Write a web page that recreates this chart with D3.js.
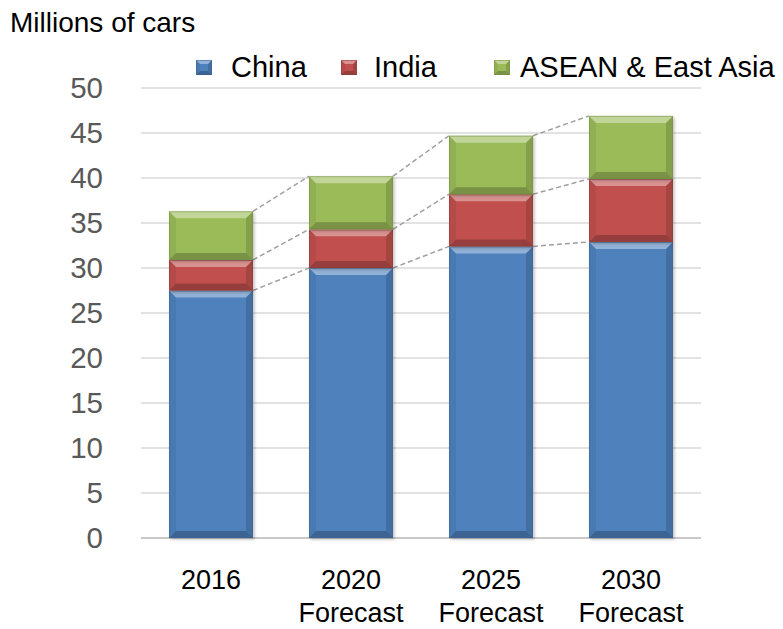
<!DOCTYPE html>
<html>
<head>
<meta charset="utf-8">
<script src="https://cdn.jsdelivr.net/npm/d3@7"></script>
<style>
  html, body { margin: 0; padding: 0; background: #fff; }
  svg { display: block; font-family: "Liberation Sans", Arial, sans-serif; }
</style>
</head>
<body>
<svg id="chart" width="783" height="629"></svg>
<script>
const categories = ["2016", "2020\nForecast", "2025\nForecast", "2030\nForecast"];
const seriesNames = ["China", "India", "ASEAN & East Asia"];
const china = [27.5, 30.0, 32.4, 32.9];
const india = [3.4, 4.3, 5.8, 7.0];
const asean = [5.4, 5.9, 6.5, 7.0];
const yTicks = [0, 5, 10, 15, 20, 25, 30, 35, 40, 45, 50];
const colors = ["#4f81bd", "#c0504d", "#9bbb59"];

const svg = d3.select("#chart");
const x = d3.scaleBand().domain(categories).range([141, 701]).paddingInner(0.4).paddingOuter(0.2);
const y = d3.scaleLinear().domain([0, 50]).range([538, 88]);

// title
svg.append("text").attr("x", 10).attr("y", 32).attr("font-size", 28).attr("fill", "#000").text("Millions of cars");

// gridlines
svg.append("g").selectAll("line").data(yTicks).join("line")
  .attr("x1", 141).attr("x2", 701)
  .attr("y1", d => y(d)).attr("y2", d => y(d))
  .attr("stroke", d => d === 0 ? "#c8c8c8" : "#d9d9d9").attr("stroke-width", d => d === 0 ? 2 : 1.5);

// y axis
const yAxis = d3.axisLeft(y).tickValues(yTicks).tickSize(0).tickPadding(0);
const gy = svg.append("g").attr("transform", "translate(103,0)").call(yAxis);
gy.select(".domain").remove();
gy.selectAll("text").attr("font-size", 29.5).attr("fill", "#595959").attr("font-family", "Liberation Sans, Arial, sans-serif");

// stack data
const rows = categories.map((c, i) => ({ cat: c, China: china[i], India: india[i], "ASEAN & East Asia": asean[i] }));
const stack = d3.stack().keys(seriesNames)(rows);

// connectors
const bw = x.bandwidth();
const conn = svg.append("g");
stack.forEach(layer => {
  for (let i = 0; i < categories.length - 1; i++) {
    conn.append("line")
      .attr("x1", x(categories[i]) + bw).attr("y1", y(layer[i][1]))
      .attr("x2", x(categories[i + 1])).attr("y2", y(layer[i + 1][1]))
      .attr("stroke", "#a0a0a0").attr("stroke-width", 1.5).attr("stroke-dasharray", "5,3");
  }
});

// shadow filter
const defs = svg.append("defs");
const f = defs.append("filter").attr("id", "sh").attr("x", "-10%").attr("y", "-10%").attr("width", "130%").attr("height", "130%");
f.append("feDropShadow").attr("dx", 1.5).attr("dy", 1.5).attr("stdDeviation", 1.5).attr("flood-color", "#000").attr("flood-opacity", 0.25);

// bars with bevel
function bevel(g, x0, y0, w, h, color, bmax) {
  const b = Math.min(bmax, h / 3);
  g.append("rect").attr("x", x0).attr("y", y0).attr("width", w).attr("height", h).attr("fill", color);
  const poly = (pts, fill, op) => g.append("polygon").attr("points", pts.map(p => p.join(",")).join(" ")).attr("fill", fill).attr("fill-opacity", op);
  poly([[x0, y0], [x0 + w, y0], [x0 + w - b, y0 + b], [x0 + b, y0 + b]], "#fff", 0.38);
  poly([[x0, y0 + h], [x0 + w, y0 + h], [x0 + w - b, y0 + h - b], [x0 + b, y0 + h - b]], "#000", 0.22);
  poly([[x0, y0], [x0 + b, y0 + b], [x0 + b, y0 + h - b], [x0, y0 + h]], "#000", 0.06);
  poly([[x0 + w, y0], [x0 + w - b, y0 + b], [x0 + w - b, y0 + h - b], [x0 + w, y0 + h]], "#000", 0.14);
  g.append("rect").attr("x", x0 + 0.5).attr("y", y0 + 0.5).attr("width", w - 1).attr("height", h - 1)
    .attr("fill", "none").attr("stroke", d3.color(color).darker(0.8)).attr("stroke-opacity", 0.5).attr("stroke-width", 1);
}

const barsG = svg.append("g");
stack.forEach((layer, si) => {
  layer.forEach((d, i) => {
    const g = barsG.append("g").attr("filter", "url(#sh)");
    const x0 = x(categories[i]);
    const y0 = y(d[1]);
    const h = y(d[0]) - y(d[1]);
    bevel(g, x0, y0, bw, h, colors[si], 7);
  });
});

// x labels
const xl = svg.append("g");
categories.forEach(c => {
  const lines = c.split("\n");
  const t = xl.append("text").attr("x", x(c) + bw / 2).attr("text-anchor", "middle").attr("font-size", 27).attr("fill", "#000");
  lines.forEach((ln, k) => t.append("tspan").attr("x", x(c) + bw / 2).attr("y", 589 + k * 33).text(ln));
});

// legend
const legendX = [196, 341, 494];
const legendTextX = [231, 374, 520];
const lg = svg.append("g");
seriesNames.forEach((s, i) => {
  const g = lg.append("g");
  bevel(g, legendX[i], 60, 16, 15, colors[i], 4);
  g.append("text").attr("x", legendTextX[i]).attr("y", 77).attr("font-size", 29).attr("fill", "#000").text(s);
});
</script>
</body>
</html>
